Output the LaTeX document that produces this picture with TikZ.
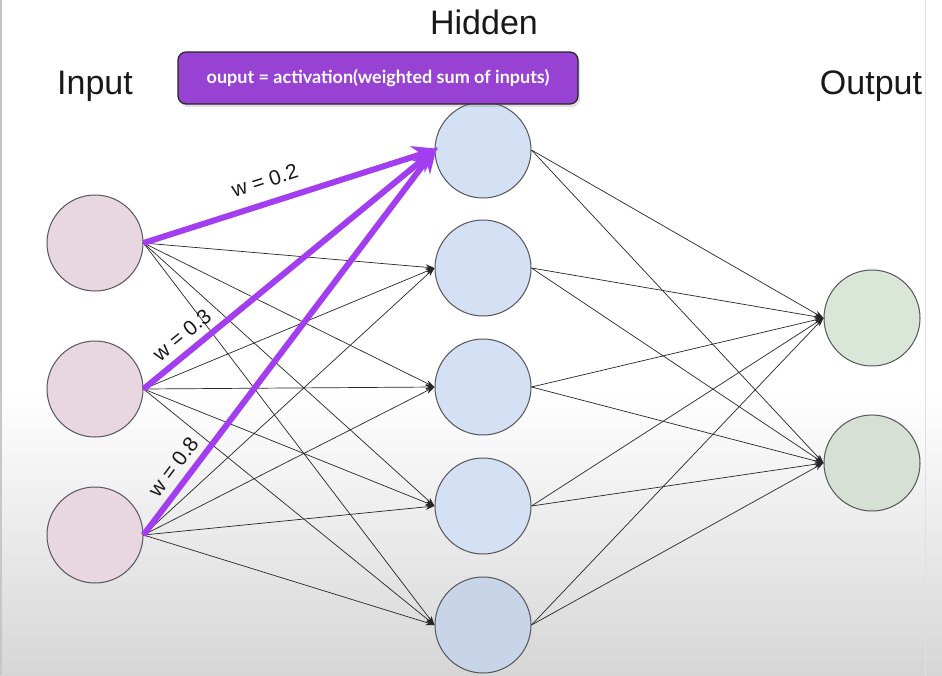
\documentclass[tikz,border=0pt]{standalone}
\usepackage{fontspec}
\setmainfont{Liberation Sans}
\newfontfamily\boxfont{Lato}
\usetikzlibrary{arrows.meta,shadows}
\definecolor{inpfill}{RGB}{232,214,224}
\definecolor{hidfill}{RGB}{212,224,243}
\definecolor{hidfilldark}{RGB}{200,212,232}
\definecolor{outfill}{RGB}{218,230,216}
\definecolor{outfilldark}{RGB}{214,224,212}
\definecolor{ringcol}{RGB}{85,85,90}
\definecolor{purpline}{RGB}{163,62,240}
\definecolor{purpbox}{RGB}{152,66,212}
\begin{document}
\begin{tikzpicture}[x=1pt,y=-1pt,
  neuron/.style={circle,draw=ringcol,line width=1pt,minimum size=96pt,inner sep=0pt},
  conn/.style={draw=black!85,line width=0.7pt,-{Stealth[length=9pt,width=6pt]}},
  hot/.style={draw=purpline,line width=6pt,-{Stealth[length=26pt,width=22pt]},shorten >=-4pt},
  title/.style={font=\fontsize{34}{40}\selectfont,text=black!90},
  wlabel/.style={font=\fontsize{21}{24}\selectfont,text=black!90,inner sep=1pt}]
\useasboundingbox (0,0) rectangle (942,675);
\fill[white] (0,0) rectangle (942,675);
\shade[top color=white,bottom color=black!16] (0,390) rectangle (942,675);
\fill[black!22] (0,0) rectangle (2,675);
\draw[black!12,line width=0.8pt] (925,0) -- (925,675);

% titles
\node[title] (tin) at (95,86) {Input};
\node[title] (thid) at (484,22) {Hidden};
\node[title] (tout) at (871,86) {Output};

% neurons
\node[neuron,fill=inpfill] (i1) at (95,243) {};
\node[neuron,fill=inpfill] (i2) at (95,389) {};
\node[neuron,fill=inpfill] (i3) at (95,535) {};
\node[neuron,fill=hidfill] (h1) at (483,150) {};
\node[neuron,fill=hidfill] (h2) at (483,268) {};
\node[neuron,fill=hidfill] (h3) at (483,387) {};
\node[neuron,fill=hidfill] (h4) at (483,506) {};
\node[neuron,fill=hidfilldark] (h5) at (483,625) {};
\node[neuron,fill=outfill] (o1) at (872,318) {};
\node[neuron,fill=outfilldark] (o2) at (872,463) {};

% connections input -> hidden
\foreach \i in {1,2,3}{
  \foreach \h in {1,...,5}{
    \draw[conn] (i\i.east) -- (h\h.west);
  }
}
% connections hidden -> output
\foreach \h in {1,...,5}{
  \foreach \o in {1,2}{
    \draw[conn] (h\h.east) -- (o\o.west);
  }
}

% highlighted weights
\draw[hot] (i1.east) -- (h1.west) node[pos=0.44,sloped,above=11pt,wlabel] (w1) {w = 0.2};
\draw[hot] (i2.east) -- (h1.west) node[pos=0.17,sloped,above=6pt,wlabel] (w2) {w = 0.3};
\draw[hot] (i3.east) -- (h1.west) node[pos=0.15,sloped,above=6pt,wlabel] (w3) {w = 0.8};

% formula box
\node[draw=black!85,line width=1.2pt,fill=purpbox,rounded corners=8pt,
      minimum width=400pt,minimum height=52pt,inner sep=0pt,
      drop shadow={shadow xshift=2pt,shadow yshift=-3pt,opacity=0.25},
      text=white,font=\boxfont\bfseries\fontsize{18}{22}\selectfont] (formula) at (378,78)
      {ouput = activation(weighted sum of inputs)};
\end{tikzpicture}
\end{document}
